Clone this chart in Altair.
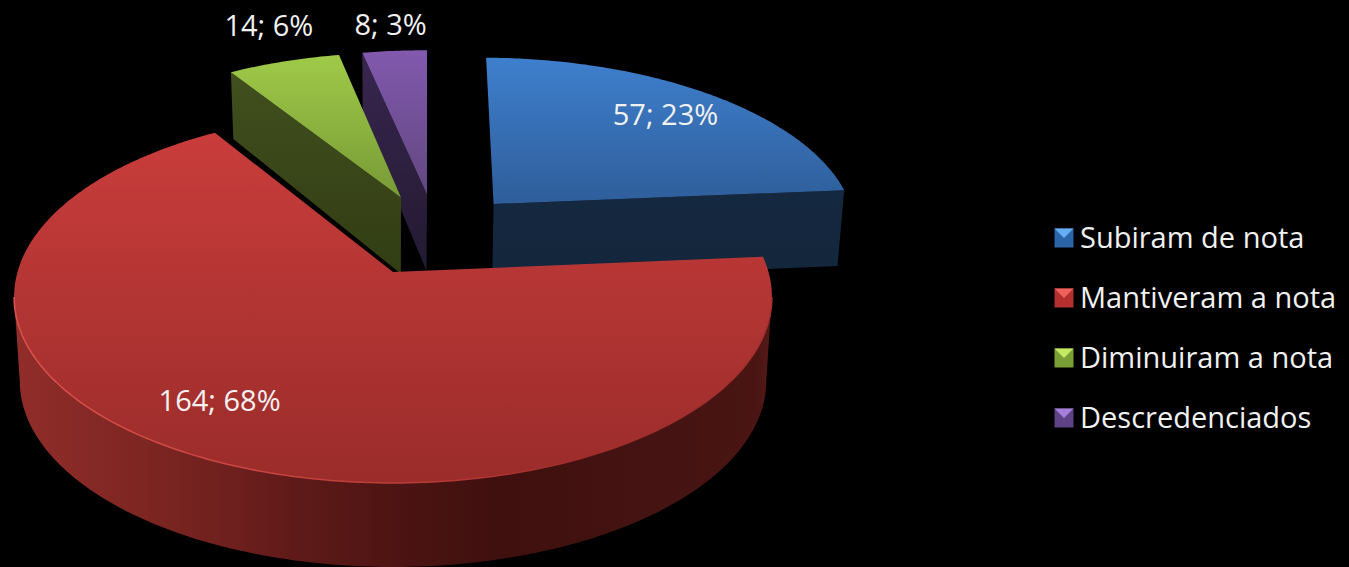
import math
import altair as alt

# Survey results shown as an exploded 3D pie
categories = ["Subiram de nota", "Mantiveram a nota", "Diminuiram a nota", "Descredenciados"]
counts = [57, 164, 14, 8]
percents = [23, 68, 6, 3]

# Perspective camera for the pie plane
ORIGIN_X, ORIGIN_Y = 393, 272
FOCAL_X, FOCAL_Y = 375.5, 182.7
TILT = 0.134
FIRST_ANGLE = 0.7

# Exploded offset of each slice, in plane units
explode = [(0.282, -0.392), (0.0, 0.0), (0.0225, -0.432), (0.096, -0.449)]
# Label placement: radius and angular nudge relative to the slice's middle
label_radius = [0.79, 0.77, 1.28, 1.21]
label_turn = [0.0, 6.6, 2.1, 0.3]

top_stops = [("#3e7fcd", "#2f5e9a"), ("#c93d3c", "#9a2c2a"), ("#9fca48", "#789a36"), ("#8259ae", "#61477f")]
wall_stops = [("#14283f", "#13263c"), None, ("#414f1e", "#323d13"), ("#38264f", "#231a31")]
red_wall_stops = [
    (0.0, "#912d2a"), (0.147, "#802723"), (0.28, "#6f201e"), (0.375, "#5e1a18"),
    (0.51, "#4c1412"), (0.64, "#3f100e"), (0.84, "#441312"), (0.98, "#4a1513"), (1.0, "#561a17"),
]
symbol_base = ["#2c64a8", "#b3302f", "#7a9f35", "#5f4285"]
symbol_light = ["#63aef5", "#f0605c", "#c3ea62", "#a680dc"]
TEXT_COLOR = "#f1f1f1"
FONT = "Open Sans"
FONT_SIZE = 29


def project(px, py):
    w = 1 - TILT * py
    return [ORIGIN_X + FOCAL_X * px / w, ORIGIN_Y + FOCAL_Y * py / w]


def rim(angle_deg, offset, radius=1.0):
    a = math.radians(angle_deg)
    return project(offset[0] + radius * math.sin(a), offset[1] - radius * math.cos(a))


def drop(pt):
    depth = min(84.0, 61 + 0.078 * pt[1])
    return [ORIGIN_X + (pt[0] - ORIGIN_X) * 0.985, pt[1] + depth]


def polygon(points):
    ring = points + [points[0]]
    return {"type": "Feature", "properties": {}, "geometry": {"type": "Polygon", "coordinates": [ring]}}


def polyline(points):
    return {"type": "Feature", "properties": {}, "geometry": {"type": "LineString", "coordinates": points}}


def vertical(c0, c1):
    return alt.LinearGradient(gradient="linear", x1=0, x2=0, y1=0, y2=1,
                              stops=[alt.GradientStop(offset=0, color=c0), alt.GradientStop(offset=1, color=c1)])


def shape(feature, fill):
    return alt.Chart(alt.Data(values=[feature])).mark_geoshape(fill=fill, stroke=None)


total = sum(counts)
starts, ends = [], []
running = 0
for c in counts:
    starts.append(FIRST_ANGLE + 360 * running / total)
    running += c
    ends.append(FIRST_ANGLE + 360 * running / total)


def top_face(i):
    steps = max(4, int((ends[i] - starts[i]) * 1.5))
    arc = [rim(starts[i] + (ends[i] - starts[i]) * k / steps, explode[i]) for k in range(steps + 1)]
    return polygon([project(*explode[i])] + arc)


def cut_wall(i, angle):
    apex = project(*explode[i])
    edge = rim(angle, explode[i])
    return polygon([apex, edge, drop(edge), drop(apex)])


layers = []
# Back slices first: blue, purple, green, each with the visible cut face
for i, wall_angle in [(0, ends[0]), (3, starts[3]), (2, starts[2])]:
    layers.append(shape(cut_wall(i, wall_angle), vertical(*wall_stops[i])))
    layers.append(shape(top_face(i), vertical(*top_stops[i])))

# Red slice: curved outer wall between the two silhouette tangents
tangent = math.degrees(math.asin(TILT))
sweep = [90 + tangent + (180 - 2 * tangent) * k / 160 for k in range(161)]
front = [rim(a, explode[1]) for a in sweep]
red_wall = polygon(front + [drop(p) for p in reversed(front)])
layers.append(shape(red_wall, alt.LinearGradient(
    gradient="linear", x1=0, x2=1, y1=0, y2=0,
    stops=[alt.GradientStop(offset=o, color=c) for o, c in red_wall_stops])))
layers.append(shape(top_face(1), vertical(*top_stops[1])))

# Soft highlight along the front rim of the red slice
highlight = alt.LinearGradient(gradient="linear", x1=0, x2=1, y1=0, y2=0, stops=[
    alt.GradientStop(offset=0, color="#dc524c"), alt.GradientStop(offset=0.5, color="#bd3d39"),
    alt.GradientStop(offset=0.75, color="#9e2d2b"), alt.GradientStop(offset=1, color="#a42f2d")])
layers.append(alt.Chart(alt.Data(values=[polyline(front)])).mark_geoshape(
    filled=False, stroke=highlight, strokeWidth=1.5))

# Value labels
label_rows = []
for i, (c, p) in enumerate(zip(counts, percents)):
    mid = (starts[i] + ends[i]) / 2 + label_turn[i]
    x, y = rim(mid, explode[i], label_radius[i])
    label_rows.append({"lon": x, "lat": y + 1, "label": f"{c}; {p}%"})
layers.append(alt.Chart(alt.Data(values=label_rows)).mark_text(
    font=FONT, fontSize=FONT_SIZE, color=TEXT_COLOR, align="center", baseline="middle"
).encode(longitude="lon:Q", latitude="lat:Q", text="label:N"))

# Legend: bevelled swatches and category names
LEGEND_X, LEGEND_TOP, LEGEND_STEP, SWATCH = 1064, 238, 60, 9.5
legend_rows = []
for i, name in enumerate(categories):
    cy = LEGEND_TOP + LEGEND_STEP * i
    x0, x1 = LEGEND_X - SWATCH, LEGEND_X + SWATCH
    y0, y1 = cy - SWATCH, cy + SWATCH
    layers.append(shape(polygon([[x0, y0], [x1, y0], [x1, y1], [x0, y1]]), symbol_base[i]))
    layers.append(shape(polygon([[x0, y0], [x1, y0], [LEGEND_X, cy]]), symbol_light[i]))
    legend_rows.append({"lon": 1080, "lat": cy + 1, "label": name})
layers.append(alt.Chart(alt.Data(values=legend_rows)).mark_text(
    font=FONT, fontSize=FONT_SIZE, color=TEXT_COLOR, align="left", baseline="middle"
).encode(longitude="lon:Q", latitude="lat:Q", text="label:N"))

chart = alt.layer(*layers).properties(
    width=1349, height=567, background="black", padding=0,
    autosize=alt.AutoSizeParams(type="none"),
    projection=alt.Projection(type="identity", scale=1, translate=[0, 0]),
).configure_view(stroke=None)

chart.save("out.html", embed_options={"renderer": "svg", "actions": False})
